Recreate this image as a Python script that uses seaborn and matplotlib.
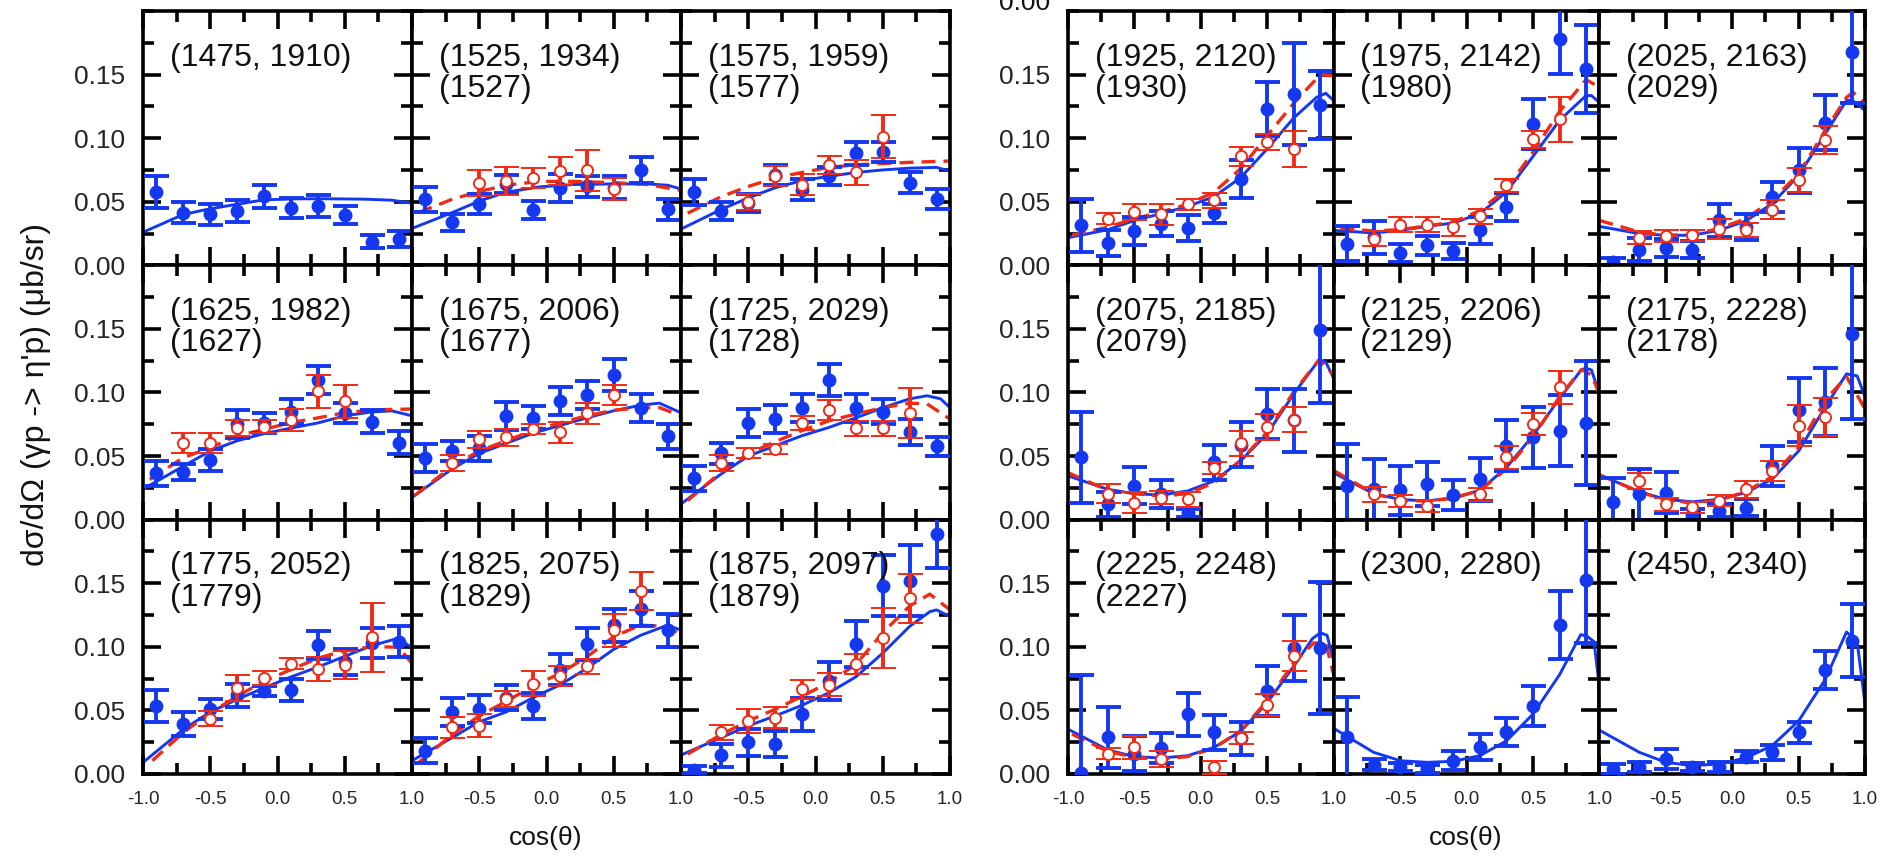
import matplotlib
matplotlib.use("Agg")
import matplotlib.pyplot as plt
import seaborn as sns
import pandas as pd
from matplotlib.ticker import FixedLocator, FixedFormatter, MultipleLocator

# ---------------- data ----------------
BINS = [-0.9, -0.7, -0.5, -0.3, -0.1, 0.1, 0.3, 0.5, 0.7, 0.9]

P01_LABEL = ["(1475, 1910)"]
P01_BLUE_Y = [0.0575, 0.0415, 0.040, 0.0427, 0.0544, 0.0453, 0.0466, 0.0394, 0.0187, 0.0207]
P01_BLUE_E = [0.0127, 0.008, 0.008, 0.0083, 0.009, 0.008, 0.009, 0.007, 0.005, 0.006]
P01_RED_X, P01_RED_Y, P01_RED_E = [], [], []
P01_BC_X = [-1.0, -0.7, -0.5, -0.3, -0.1, 0.15, 0.4, 0.65, 0.85, 1.0]
P01_BC_Y = [0.026, 0.040, 0.0445, 0.048, 0.0515, 0.0523, 0.0523, 0.052, 0.0512, 0.0488]
P01_RC_X, P01_RC_Y = [], []

P02_LABEL = ["(1525, 1934)", "(1527)"]
P02_BLUE_Y = [0.0518, 0.0337, 0.048, 0.064, 0.0435, 0.061, 0.062, 0.061, 0.075, 0.044]
P02_BLUE_E = [0.010, 0.007, 0.008, 0.007, 0.007, 0.011, 0.008, 0.009, 0.010, 0.008]
P02_RED_X = [-0.5, -0.3, -0.1, 0.1, 0.3, 0.5]
P02_RED_Y = [0.0648, 0.0666, 0.0687, 0.0738, 0.0746, 0.060]
P02_RED_E = [0.0104, 0.011, 0.008, 0.011, 0.016, 0.009]
P02_BC_X = [-1.0, -0.7, -0.5, -0.3, -0.05, 0.2, 0.5, 0.75, 0.9, 1.0]
P02_BC_Y = [0.029, 0.0415, 0.0505, 0.0575, 0.0617, 0.0635, 0.064, 0.064, 0.063, 0.060]
P02_RC_X = [-0.95, -0.7, -0.5, -0.3, -0.05, 0.2, 0.5, 0.75, 1.0]
P02_RC_Y = [0.0415, 0.052, 0.058, 0.063, 0.066, 0.066, 0.065, 0.0635, 0.059]

P03_LABEL = ["(1575, 1959)", "(1577)"]
P03_BLUE_Y = [0.0575, 0.0427, 0.049, 0.071, 0.0596, 0.070, 0.088, 0.089, 0.065, 0.052]
P03_BLUE_E = [0.010, 0.007, 0.007, 0.008, 0.008, 0.007, 0.009, 0.008, 0.008, 0.008]
P03_RED_X = [-0.5, -0.3, -0.1, 0.1, 0.3, 0.5]
P03_RED_Y = [0.0497, 0.070, 0.0635, 0.079, 0.073, 0.101]
P03_RED_E = [0.0065, 0.008, 0.008, 0.007, 0.010, 0.017]
P03_BC_X = [-1.0, -0.7, -0.5, -0.3, -0.1, 0.1, 0.3, 0.5, 0.7, 0.9, 1.0]
P03_BC_Y = [0.0285, 0.044, 0.053, 0.061, 0.0666, 0.070, 0.073, 0.075, 0.0764, 0.077, 0.074]
P03_RC_X = [-0.95, -0.7, -0.5, -0.3, -0.1, 0.1, 0.3, 0.5, 0.7, 1.0]
P03_RC_Y = [0.041, 0.054, 0.062, 0.0687, 0.073, 0.077, 0.079, 0.080, 0.081, 0.082]

P04_LABEL = ["(1625, 1982)", "(1627)"]
P04_BLUE_Y = [0.0363, 0.0374, 0.0468, 0.075, 0.076, 0.085, 0.110, 0.084, 0.077, 0.0605]
P04_BLUE_E = [0.0097, 0.0066, 0.0085, 0.011, 0.008, 0.010, 0.011, 0.008, 0.009, 0.009]
P04_RED_X = [-0.7, -0.5, -0.3, -0.1, 0.1, 0.3, 0.5]
P04_RED_Y = [0.0605, 0.0605, 0.072, 0.073, 0.078, 0.101, 0.093]
P04_RED_E = [0.008, 0.008, 0.0066, 0.005, 0.0086, 0.013, 0.013]
P04_BC_X = [-1.0, -0.7, -0.5, -0.3, -0.1, 0.1, 0.3, 0.5, 0.7, 0.85, 1.0]
P04_BC_Y = [0.024, 0.042, 0.054, 0.062, 0.0676, 0.072, 0.076, 0.0816, 0.0847, 0.0855, 0.0816]
P04_RC_X = [-0.95, -0.7, -0.5, -0.3, -0.1, 0.1, 0.3, 0.5, 0.7, 1.0]
P04_RC_Y = [0.0316, 0.0487, 0.0566, 0.0658, 0.071, 0.0763, 0.080, 0.084, 0.0863, 0.087]

P05_LABEL = ["(1675, 2006)", "(1677)"]
P05_BLUE_Y = [0.0482, 0.054, 0.056, 0.0817, 0.080, 0.0935, 0.098, 0.1136, 0.0874, 0.0654]
P05_BLUE_E = [0.011, 0.008, 0.010, 0.011, 0.009, 0.011, 0.011, 0.0125, 0.011, 0.0098]
P05_RED_X = [-0.7, -0.5, -0.3, -0.1, 0.1, 0.3, 0.5]
P05_RED_Y = [0.0445, 0.063, 0.0647, 0.071, 0.0686, 0.0835, 0.098]
P05_RED_E = [0.0063, 0.0066, 0.0066, 0.004, 0.008, 0.008, 0.0075]
P05_BC_X = [-1.0, -0.7, -0.5, -0.3, -0.1, 0.1, 0.3, 0.5, 0.7, 0.84, 1.0]
P05_BC_Y = [0.0175, 0.040, 0.052, 0.060, 0.068, 0.074, 0.080, 0.0856, 0.090, 0.0916, 0.084]
P05_RC_X = [-0.98, -0.7, -0.5, -0.3, -0.1, 0.1, 0.3, 0.5, 0.7, 0.84, 1.0]
P05_RC_Y = [0.019, 0.042, 0.054, 0.062, 0.070, 0.076, 0.0817, 0.086, 0.088, 0.088, 0.0817]

P06_LABEL = ["(1725, 2029)", "(1728)"]
P06_BLUE_Y = [0.0325, 0.052, 0.0759, 0.079, 0.0874, 0.110, 0.0874, 0.0848, 0.069, 0.0576]
P06_BLUE_E = [0.0098, 0.008, 0.011, 0.011, 0.011, 0.0127, 0.011, 0.0098, 0.0105, 0.0075]
P06_RED_X = [-0.7, -0.5, -0.3, -0.1, 0.1, 0.3, 0.5, 0.7]
P06_RED_Y = [0.0445, 0.0524, 0.0555, 0.076, 0.0864, 0.0717, 0.0717, 0.0838]
P06_RED_E = [0.0066, 0.0043, 0.0043, 0.0056, 0.008, 0.006, 0.006, 0.0196]
P06_BC_X = [-1.0, -0.7, -0.5, -0.3, -0.1, 0.1, 0.3, 0.5, 0.7, 0.83, 0.93, 1.0]
P06_BC_Y = [0.0123, 0.036, 0.050, 0.058, 0.066, 0.0725, 0.080, 0.088, 0.095, 0.0974, 0.095, 0.088]
P06_RC_X = [-0.95, -0.7, -0.5, -0.3, -0.1, 0.1, 0.3, 0.5, 0.7, 0.83, 1.0]
P06_RC_Y = [0.015, 0.0377, 0.0516, 0.0613, 0.070, 0.0777, 0.083, 0.088, 0.0916, 0.091, 0.079]

P07_LABEL = ["(1775, 2052)", "(1779)"]
P07_BLUE_Y = [0.0534, 0.039, 0.0508, 0.062, 0.065, 0.066, 0.101, 0.088, 0.103, 0.104]
P07_BLUE_E = [0.0128, 0.0094, 0.008, 0.009, 0.004, 0.0085, 0.011, 0.010, 0.012, 0.012]
P07_RED_X = [-0.5, -0.3, -0.1, 0.1, 0.3, 0.5, 0.7]
P07_RED_Y = [0.0435, 0.0677, 0.0755, 0.0867, 0.0825, 0.086, 0.1075]
P07_RED_E = [0.0062, 0.010, 0.0052, 0.0045, 0.0096, 0.011, 0.027]
P07_BC_X = [-1.0, -0.7, -0.5, -0.3, -0.1, 0.1, 0.3, 0.5, 0.7, 0.9, 1.0]
P07_BC_Y = [0.009, 0.035, 0.0487, 0.0586, 0.0677, 0.0763, 0.084, 0.0925, 0.1008, 0.1068, 0.099]
P07_RC_X = [-0.93, -0.7, -0.5, -0.3, -0.1, 0.1, 0.3, 0.5, 0.7, 0.9, 1.0]
P07_RC_Y = [0.0104, 0.0326, 0.048, 0.061, 0.073, 0.082, 0.091, 0.097, 0.100, 0.0997, 0.087]

P08_LABEL = ["(1825, 2075)", "(1829)"]
P08_BLUE_Y = [0.0182, 0.0487, 0.0508, 0.060, 0.0534, 0.082, 0.102, 0.117, 0.130, 0.113]
P08_BLUE_E = [0.010, 0.011, 0.011, 0.010, 0.0099, 0.012, 0.0128, 0.013, 0.0135, 0.013]
P08_RED_X = [-0.7, -0.5, -0.3, -0.1, 0.1, 0.3, 0.5, 0.7]
P08_RED_Y = [0.0365, 0.0378, 0.059, 0.071, 0.0768, 0.0846, 0.1128, 0.144]
P08_RED_E = [0.008, 0.009, 0.0065, 0.010, 0.0078, 0.006, 0.0128, 0.015]
P08_BC_X = [-1.0, -0.7, -0.5, -0.3, -0.1, 0.1, 0.3, 0.5, 0.7, 0.9, 1.0]
P08_BC_Y = [0.0104, 0.0286, 0.041, 0.0487, 0.060, 0.070, 0.083, 0.098, 0.109, 0.117, 0.113]
P08_RC_X = [-0.95, -0.7, -0.5, -0.3, -0.1, 0.1, 0.3, 0.5, 0.7, 0.9, 1.0]
P08_RC_Y = [0.009, 0.031, 0.0456, 0.057, 0.069, 0.079, 0.092, 0.108, 0.117, 0.116, 0.109]

P09_LABEL = ["(1875, 2097)", "(1879)"]
P09_BLUE_Y = [0.0034, 0.0148, 0.0247, 0.0234, 0.0469, 0.073, 0.102, 0.148, 0.152, 0.189]
P09_BLUE_E = [0.003, 0.009, 0.0107, 0.010, 0.013, 0.015, 0.018, 0.024, 0.028, 0.027]
P09_RED_X = [-0.7, -0.5, -0.3, -0.1, 0.1, 0.3, 0.5, 0.7]
P09_RED_Y = [0.0326, 0.0417, 0.0443, 0.0664, 0.0703, 0.0867, 0.1068, 0.138]
P09_RED_E = [0.0057, 0.0094, 0.0082, 0.0072, 0.0094, 0.0078, 0.0234, 0.0195]
P09_BC_X = [-1.0, -0.7, -0.5, -0.3, -0.1, 0.1, 0.3, 0.5, 0.7, 0.85, 0.9, 1.0]
P09_BC_Y = [0.0148, 0.0286, 0.0378, 0.0456, 0.054, 0.0638, 0.0763, 0.095, 0.116, 0.1276, 0.129, 0.1237]
P09_RC_X = [-0.95, -0.7, -0.5, -0.3, -0.1, 0.1, 0.3, 0.5, 0.7, 0.85, 1.0]
P09_RC_Y = [0.0156, 0.031, 0.0417, 0.0508, 0.061, 0.072, 0.086, 0.111, 0.132, 0.1414, 0.129]

P10_LABEL = ["(1925, 2120)", "(1930)"]
P10_BLUE_Y = [0.0314, 0.0175, 0.027, 0.0327, 0.0296, 0.041, 0.068, 0.123, 0.135, 0.126]
P10_BLUE_E = [0.021, 0.0105, 0.011, 0.0098, 0.0102, 0.0075, 0.015, 0.021, 0.040, 0.027]
P10_RED_X = [-0.7, -0.5, -0.3, -0.1, 0.1, 0.3, 0.5, 0.7]
P10_RED_Y = [0.0366, 0.0419, 0.040, 0.048, 0.051, 0.0856, 0.0969, 0.0916]
P10_RED_E = [0.0045, 0.0063, 0.008, 0.0045, 0.006, 0.0075, 0.006, 0.0144]
P10_BC_X = [-1.0, -0.7, -0.5, -0.3, -0.1, 0.1, 0.3, 0.5, 0.7, 0.87, 0.94, 1.0]
P10_BC_Y = [0.0217, 0.028, 0.0353, 0.0406, 0.0463, 0.054, 0.069, 0.0916, 0.116, 0.132, 0.1353, 0.1296]
P10_RC_X = [-0.97, -0.7, -0.5, -0.3, -0.1, 0.1, 0.3, 0.5, 0.7, 0.9, 1.0]
P10_RC_Y = [0.0236, 0.030, 0.0366, 0.0419, 0.048, 0.0576, 0.076, 0.102, 0.1275, 0.150, 0.149]

P11_LABEL = ["(1975, 2142)", "(1980)"]
P11_BLUE_Y = [0.017, 0.022, 0.0097, 0.0157, 0.0113, 0.0275, 0.046, 0.111, 0.178, 0.1545]
P11_BLUE_E = [0.0137, 0.013, 0.007, 0.0075, 0.006, 0.0105, 0.011, 0.0196, 0.0275, 0.0347]
P11_RED_X = [-0.7, -0.5, -0.3, -0.1, 0.1, 0.3, 0.5, 0.7]
P11_RED_Y = [0.021, 0.032, 0.032, 0.030, 0.0385, 0.063, 0.099, 0.115]
P11_RED_E = [0.006, 0.006, 0.006, 0.0068, 0.006, 0.0052, 0.0065, 0.0177]
P11_BC_X = [-1.0, -0.7, -0.5, -0.3, -0.1, 0.1, 0.3, 0.5, 0.7, 0.9, 0.94, 1.0]
P11_BC_Y = [0.0275, 0.0254, 0.0275, 0.0306, 0.0333, 0.0406, 0.0576, 0.0856, 0.114, 0.1335, 0.1335, 0.128]
P11_RC_X = [-0.95, -0.7, -0.5, -0.3, -0.1, 0.1, 0.3, 0.5, 0.7, 0.9, 1.0]
P11_RC_Y = [0.029, 0.027, 0.028, 0.031, 0.034, 0.043, 0.060, 0.089, 0.121, 0.146, 0.140]

P12_LABEL = ["(2025, 2163)", "(2029)"]
P12_BLUE_Y = [0.0026, 0.0123, 0.0139, 0.0123, 0.0353, 0.030, 0.0537, 0.0746, 0.112, 0.1675]
P12_BLUE_E = [0.003, 0.009, 0.007, 0.0065, 0.0128, 0.010, 0.0118, 0.0177, 0.0216, 0.040]
P12_RED_X = [-0.7, -0.5, -0.3, -0.1, 0.1, 0.3, 0.5, 0.7]
P12_RED_Y = [0.0217, 0.0228, 0.0236, 0.0288, 0.0275, 0.0437, 0.0668, 0.0987]
P12_RED_E = [0.0052, 0.0046, 0.0045, 0.0078, 0.0055, 0.0073, 0.0095, 0.011]
P12_BC_X = [-1.0, -0.7, -0.5, -0.3, -0.1, 0.1, 0.3, 0.5, 0.7, 0.86, 0.9, 1.0]
P12_BC_Y = [0.0306, 0.0249, 0.0236, 0.0236, 0.0275, 0.0348, 0.0484, 0.0707, 0.1034, 0.1296, 0.130, 0.1217]
P12_RC_X = [-1.0, -0.7, -0.5, -0.3, -0.1, 0.1, 0.3, 0.5, 0.7, 0.86, 0.91, 1.0]
P12_RC_Y = [0.0353, 0.0262, 0.0236, 0.0243, 0.0288, 0.0366, 0.051, 0.072, 0.106, 0.132, 0.136, 0.127]

P13_LABEL = ["(2075, 2185)", "(2079)"]
P13_BLUE_Y = [0.049, 0.012, 0.0265, 0.020, 0.0053, 0.045, 0.059, 0.083, 0.078, 0.149]
P13_BLUE_E = [0.036, 0.010, 0.0145, 0.011, 0.003, 0.0135, 0.018, 0.020, 0.025, 0.0575]
P13_RED_X = [-0.7, -0.5, -0.3, -0.1, 0.1, 0.3, 0.5, 0.7]
P13_RED_Y = [0.0204, 0.0132, 0.0172, 0.0159, 0.0405, 0.060, 0.0728, 0.0786]
P13_RED_E = [0.0073, 0.0083, 0.0053, 0.006, 0.005, 0.010, 0.010, 0.010]
P13_BC_X = [-1.0, -0.7, -0.5, -0.3, -0.1, 0.1, 0.3, 0.5, 0.7, 0.89, 0.94, 1.0]
P13_BC_Y = [0.0344, 0.0238, 0.0204, 0.0193, 0.0225, 0.0304, 0.0463, 0.0675, 0.099, 0.1257, 0.124, 0.111]
P13_RC_X = [-1.0, -0.7, -0.5, -0.3, -0.1, 0.1, 0.3, 0.5, 0.7, 0.89, 1.0]
P13_RC_Y = [0.037, 0.023, 0.0204, 0.0185, 0.0204, 0.029, 0.0468, 0.0688, 0.1005, 0.1257, 0.1138]

P14_LABEL = ["(2125, 2206)", "(2129)"]
P14_BLUE_Y = [0.0265, 0.024, 0.023, 0.028, 0.0193, 0.0317, 0.058, 0.0648, 0.070, 0.076]
P14_BLUE_E = [0.033, 0.024, 0.019, 0.017, 0.012, 0.017, 0.020, 0.024, 0.028, 0.0485]
P14_RED_X = [-0.7, -0.5, -0.3, 0.1, 0.3, 0.5, 0.7]
P14_RED_Y = [0.0198, 0.0146, 0.0106, 0.0198, 0.049, 0.075, 0.104]
P14_RED_E = [0.006, 0.0045, 0.005, 0.005, 0.009, 0.0085, 0.013]
P14_BC_X = [-0.99, -0.7, -0.5, -0.3, -0.1, 0.1, 0.3, 0.5, 0.7, 0.865, 0.9, 0.94, 1.0]
P14_BC_Y = [0.0362, 0.0204, 0.0159, 0.0146, 0.0172, 0.023, 0.041, 0.0661, 0.0952, 0.118, 0.119, 0.1177, 0.099]
P14_RC_X = [-0.99, -0.7, -0.5, -0.3, -0.1, 0.1, 0.3, 0.5, 0.7, 0.865, 0.94, 1.0]
P14_RC_Y = [0.038, 0.0204, 0.0151, 0.0146, 0.0167, 0.023, 0.0397, 0.0648, 0.0966, 0.118, 0.1138, 0.099]

P15_LABEL = ["(2175, 2228)", "(2178)"]
P15_BLUE_Y = [0.014, 0.020, 0.0212, 0.004, 0.0071, 0.0093, 0.042, 0.086, 0.0926, 0.146]
P15_BLUE_E = [0.019, 0.020, 0.016, 0.004, 0.005, 0.0066, 0.0155, 0.025, 0.0265, 0.067]
P15_RED_X = [-0.7, -0.5, -0.3, -0.1, 0.1, 0.3, 0.5, 0.7]
P15_RED_Y = [0.0304, 0.0119, 0.0098, 0.015, 0.0238, 0.0384, 0.074, 0.081]
P15_RED_E = [0.0066, 0.0048, 0.0044, 0.0045, 0.0066, 0.008, 0.016, 0.015]
P15_BC_X = [-1.0, -0.7, -0.5, -0.3, -0.1, 0.1, 0.3, 0.5, 0.7, 0.86, 0.94, 1.0]
P15_BC_Y = [0.0352, 0.022, 0.0159, 0.014, 0.0159, 0.0212, 0.0317, 0.054, 0.0886, 0.1146, 0.113, 0.0966]
P15_RC_X = [-1.0, -0.7, -0.5, -0.3, -0.1, 0.1, 0.3, 0.5, 0.7, 0.86, 1.0]
P15_RC_Y = [0.0352, 0.022, 0.0151, 0.0132, 0.0151, 0.022, 0.0336, 0.0569, 0.094, 0.1124, 0.087]

P16_LABEL = ["(2225, 2248)", "(2227)"]
P16_BLUE_Y = [0.001, 0.029, 0.016, 0.0203, 0.047, 0.0326, 0.028, 0.065, 0.099, 0.099]
P16_BLUE_E = [0.077, 0.024, 0.014, 0.0117, 0.017, 0.014, 0.013, 0.0196, 0.026, 0.052]
P16_RED_X = [-0.7, -0.5, -0.3, 0.1, 0.3, 0.5, 0.7]
P16_RED_Y = [0.016, 0.0209, 0.0117, 0.0052, 0.0282, 0.0542, 0.0926]
P16_RED_E = [0.0046, 0.009, 0.006, 0.005, 0.0046, 0.0087, 0.0117]
P16_BC_X = [-1.0, -0.7, -0.5, -0.3, -0.1, 0.1, 0.3, 0.5, 0.7, 0.84, 0.9, 0.95, 1.0]
P16_BC_Y = [0.0352, 0.0188, 0.0136, 0.0125, 0.0143, 0.0209, 0.0334, 0.056, 0.0848, 0.1064, 0.111, 0.109, 0.0887]
P16_RC_X = [-0.97, -0.7, -0.5, -0.3, -0.1, 0.1, 0.3, 0.5, 0.7, 0.85, 0.94, 1.0]
P16_RC_Y = [0.0313, 0.0177, 0.013, 0.0117, 0.0136, 0.0203, 0.034, 0.0574, 0.0874, 0.103, 0.103, 0.078]

P17_LABEL = ["(2300, 2280)"]
P17_BLUE_Y = [0.0287, 0.0073, 0.0052, 0.004, 0.0104, 0.021, 0.0326, 0.0535, 0.117, 0.1526]
P17_BLUE_E = [0.032, 0.0045, 0.003, 0.003, 0.0073, 0.010, 0.011, 0.0157, 0.027, 0.050]
P17_RED_X, P17_RED_Y, P17_RED_E = [], [], []
P17_BC_X = [-0.99, -0.7, -0.5, -0.3, -0.1, 0.1, 0.3, 0.5, 0.7, 0.86, 0.91, 0.96, 1.0]
P17_BC_Y = [0.0352, 0.017, 0.0104, 0.0091, 0.0099, 0.0143, 0.026, 0.047, 0.078, 0.1096, 0.108, 0.104, 0.068]
P17_RC_X, P17_RC_Y = [], []

P18_LABEL = ["(2450, 2340)"]
P18_BLUE_Y = [0.004, 0.0052, 0.0117, 0.0052, 0.0057, 0.0136, 0.017, 0.0326, 0.082, 0.1049]
P18_BLUE_E = [0.004, 0.004, 0.0075, 0.003, 0.004, 0.0046, 0.006, 0.0085, 0.015, 0.0287]
P18_RED_X, P18_RED_Y, P18_RED_E = [], [], []
P18_BC_X = [-1.0, -0.7, -0.5, -0.3, -0.1, 0.1, 0.3, 0.5, 0.7, 0.86, 0.94, 1.0]
P18_BC_Y = [0.0344, 0.017, 0.0091, 0.0065, 0.0078, 0.0125, 0.0222, 0.0417, 0.0743, 0.1116, 0.104, 0.0548]
P18_RC_X, P18_RC_Y = [], []

X_TICKS = [-1.0, -0.5, 0.0, 0.5, 1.0]
X_TICK_LABELS = ["-1.0", "-0.5", "0.0", "0.5", "1.0"]
Y_TICKS = [0.0, 0.05, 0.10, 0.15]
Y_TICK_LABELS = ["0.00", "0.05", "0.10", "0.15"]
Y_LABEL = "dσ/dΩ (γp -> η'p) (μb/sr)"
X_LABEL = "cos(θ)"

g = globals()
PANELS = []
for i in range(1, 19):
    k = "P%02d_" % i
    PANELS.append(dict(label=g[k + "LABEL"], by=g[k + "BLUE_Y"], be=g[k + "BLUE_E"],
                       rx=g[k + "RED_X"], ry=g[k + "RED_Y"], re=g[k + "RED_E"],
                       bcx=g[k + "BC_X"], bcy=g[k + "BC_Y"],
                       rcx=g[k + "RC_X"], rcy=g[k + "RC_Y"]))

# ---------------- style ----------------
sns.set_theme(style="white")
plt.rcParams['font.family'] = ['Liberation Sans', 'DejaVu Sans']
plt.rcParams['axes.linewidth'] = 2.6

BLUE = '#1438f0'
RED = '#f22a14'

W, H = 1892, 867
fig = plt.figure(figsize=(W / 100, H / 100), dpi=100)
fig.patch.set_facecolor('white')

GRID_X0 = [143.0, 1068.0]
GRID_PW = [269.0, 265.7]
TOP = 11.0
PH = 254.3


def add_ax(x0, y0, w, h):
    return fig.add_axes([x0 / W, 1 - (y0 + h) / H, w / W, h / H])


for gi in range(2):
    for r in range(3):
        for c in range(3):
            p = PANELS[gi * 9 + r * 3 + c]
            ax = add_ax(GRID_X0[gi] + c * GRID_PW[gi], TOP + r * PH, GRID_PW[gi], PH)
            ax.set_facecolor('white')
            # model curves
            df_b = pd.DataFrame({"x": p["bcx"], "y": p["bcy"]})
            sns.lineplot(data=df_b, x="x", y="y", ax=ax, color=BLUE, lw=2.1,
                         sort=False, estimator=None, zorder=2)
            if p["rcx"]:
                df_r = pd.DataFrame({"x": p["rcx"], "y": p["rcy"]})
                sns.lineplot(data=df_r, x="x", y="y", ax=ax, color=RED, lw=2.4,
                             sort=False, estimator=None, zorder=2.5,
                             linestyle=(0, (4.2, 2.4)))
            # blue data
            ax.errorbar(BINS, p["by"], yerr=p["be"], fmt='o', color=BLUE, ms=9,
                        mec=BLUE, mfc=BLUE, elinewidth=2.8, capsize=9, capthick=2.8,
                        zorder=3)
            # red data
            if p["rx"]:
                ax.errorbar(p["rx"], p["ry"], yerr=p["re"], fmt='o', color=RED, ms=8,
                            mec=RED, mfc='white', mew=1.4, elinewidth=2.8, capsize=9,
                            capthick=2.8, zorder=4)
            ax.text(0.1, 0.875, "\n".join(p["label"]), transform=ax.transAxes,
                    ha='left', va='top', fontsize=23, linespacing=1.05, color='#111111')
            ax.set_xlim(-1.0, 1.0)
            ax.set_ylim(0.0, 0.2)
            ax.set_xlabel("")
            ax.set_ylabel("")
            for s in ax.spines.values():
                s.set_linewidth(2.6)
                s.set_color('black')
                s.set_visible(True)
            ax.xaxis.set_major_locator(FixedLocator(X_TICKS))
            xl = list(X_TICK_LABELS)
            if c > 0:
                xl[0] = ""
            ax.xaxis.set_major_formatter(FixedFormatter(xl))
            ax.xaxis.set_minor_locator(MultipleLocator(0.25))
            ax.yaxis.set_major_locator(FixedLocator(Y_TICKS))
            ax.yaxis.set_major_formatter(FixedFormatter(Y_TICK_LABELS))
            ax.yaxis.set_minor_locator(MultipleLocator(0.025))
            ax.tick_params(which='both', direction='in', top=True, right=True,
                           bottom=True, left=True, width=2.6, color='black')
            ax.tick_params(which='major', length=13)
            ax.tick_params(which='minor', length=8)
            ax.tick_params(axis='x', labelsize=13.5, pad=12,
                           labelbottom=(r == 2))
            ax.tick_params(axis='y', labelsize=19, pad=13, labelleft=(c == 0))

# axis titles
fig.text(36 / W, 1 - 395 / H, Y_LABEL, rotation=90, ha='center', va='center',
         fontsize=23, color='#111111')
fig.text(546 / W, 1 - 838 / H, X_LABEL, ha='center', va='center', fontsize=19,
         color='#111111')
fig.text(1466 / W, 1 - 838 / H, X_LABEL, ha='center', va='center', fontsize=19,
         color='#111111')

# partly visible tick label at the very top of the right block (as in the reference)
fig.text(1050 / W, 1 - 3 / H, "0.00", ha='right', va='center', fontsize=19,
         color='#111111')

fig.savefig("out.png", dpi=100, facecolor='white')
